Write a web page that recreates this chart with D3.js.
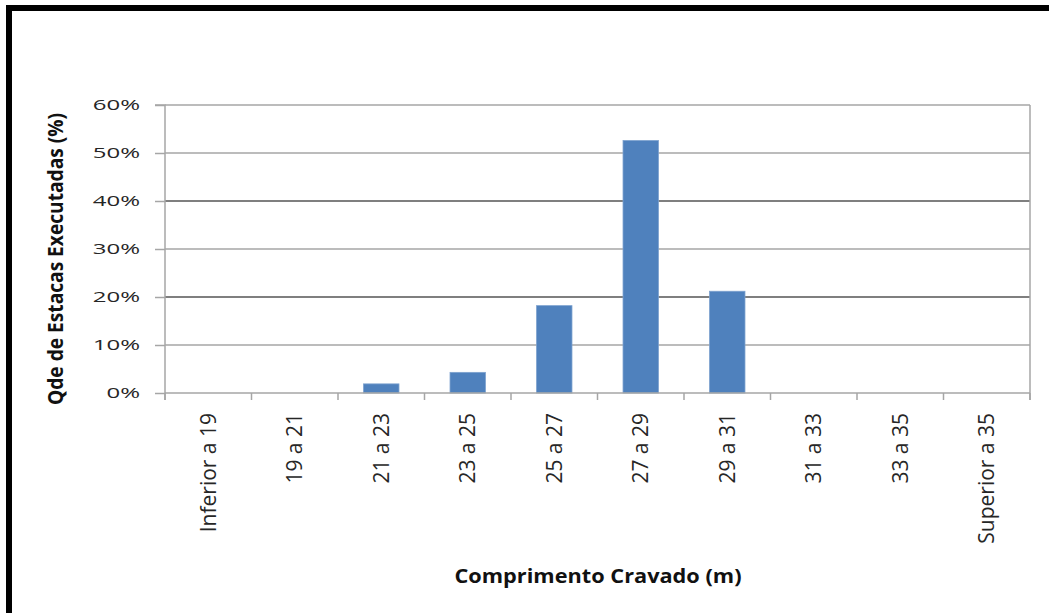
<!DOCTYPE html>
<html>
<head>
<meta charset="utf-8">
<script src="https://cdn.jsdelivr.net/npm/d3@7"></script>
<style>
  html, body { margin: 0; padding: 0; background: #fff; }
  svg { display: block; }
  text { font-family: "Open Sans", "Noto Sans", sans-serif; }
</style>
</head>
<body>
<svg id="chart" width="1049" height="613"></svg>
<script>
// ---- data ----
const categories = ["Inferior a 19", "19 a 21", "21 a 23", "23 a 25", "25 a 27",
                    "27 a 29", "29 a 31", "31 a 33", "33 a 35", "Superior a 35"];
const percentValues = [0, 0, 1.9, 4.3, 18.2, 52.6, 21.2, 0, 0, 0];
const yTickValues = [0, 10, 20, 30, 40, 50, 60];
const xAxisTitle = "Comprimento Cravado (m)";
const yAxisTitle = "Qde de Estacas Executadas (%)";

// ---- layout ----
const W = 1049, H = 613;
const plot = { left: 165, right: 1030, top: 105, bottom: 393 };

const svg = d3.select("#chart");

// outer frame (cut off at right/bottom like the reference)
svg.append("rect")
  .attr("x", 9).attr("y", 8)
  .attr("width", W + 20).attr("height", H + 20)
  .attr("fill", "#fff")
  .attr("stroke", "#000").attr("stroke-width", 6);

const x = d3.scaleBand()
  .domain(categories)
  .range([plot.left, plot.right])
  .paddingInner(0.59).paddingOuter(0.295);

const xCat = d3.scaleBand().domain(categories).range([plot.left, plot.right]);

const y = d3.scaleLinear().domain([0, 60]).range([plot.bottom, plot.top]);

// gridlines
svg.append("g").selectAll("line")
  .data(yTickValues.filter(v => v > 0))
  .join("line")
  .attr("x1", plot.left).attr("x2", plot.right)
  .attr("y1", d => y(d)).attr("y2", d => y(d))
  .attr("stroke", d => (d === 20 || d === 40) ? "#7f7f7f" : "#a6a6a6")
  .attr("stroke-width", d => (d === 20 || d === 40) ? 2 : 1.5);

// right border of plot
svg.append("line")
  .attr("x1", plot.right).attr("x2", plot.right)
  .attr("y1", plot.top).attr("y2", plot.bottom + 7)
  .attr("stroke", "#a6a6a6").attr("stroke-width", 1.5);

// bars
svg.append("g").selectAll("rect")
  .data(categories.map((c, i) => ({ c, v: percentValues[i] })).filter(d => d.v > 0))
  .join("rect")
  .attr("x", d => x(d.c))
  .attr("width", x.bandwidth())
  .attr("y", d => y(d.v))
  .attr("height", d => y(0) - y(d.v))
  .attr("fill", "#4f81bd")
  .attr("stroke", "#7da2cf").attr("stroke-width", 0.8);

// y axis
const yAxis = svg.append("g")
  .attr("transform", `translate(${plot.left},0)`)
  .call(d3.axisLeft(y).tickValues(yTickValues).tickSize(10).tickFormat(""));
yAxis.select(".domain").attr("stroke", "#a6a6a6").attr("stroke-width", 1.5)
  .attr("d", `M-10,${plot.top}H0V${plot.bottom + 7}`);
yAxis.selectAll(".tick line").attr("stroke", "#a6a6a6").attr("stroke-width", 1.5);

svg.append("g").selectAll("text")
  .data(yTickValues)
  .join("text")
  .attr("transform", d => `translate(140,${y(d)}) scale(1.6,1)`)
  .attr("text-anchor", "end")
  .attr("dy", "0.36em")
  .attr("font-size", 15)
  .attr("fill", "#262626")
  .text(d => d + "%");

// x axis
const xAxis = svg.append("g")
  .attr("transform", `translate(0,${plot.bottom})`)
  .call(d3.axisBottom(xCat).tickSize(0).tickFormat(""));
xAxis.select(".domain").attr("stroke", "#a6a6a6").attr("stroke-width", 1.5)
  .attr("d", `M${plot.left},0H${plot.right}`);
xAxis.selectAll(".tick").remove();

// category boundary ticks
svg.append("g").selectAll("line")
  .data(d3.range(categories.length + 1))
  .join("line")
  .attr("x1", i => plot.left + i * xCat.step())
  .attr("x2", i => plot.left + i * xCat.step())
  .attr("y1", plot.bottom).attr("y2", plot.bottom + 7)
  .attr("stroke", "#a6a6a6").attr("stroke-width", 1.5);

// rotated category labels
svg.append("g").selectAll("text")
  .data(categories)
  .join("text")
  .attr("transform", d => `translate(${xCat(d) + xCat.bandwidth() / 2},413) rotate(-90)`)
  .attr("text-anchor", "end")
  .attr("dy", "0.36em")
  .attr("font-size", 21)
  .attr("fill", "#262626")
  .text(d => d);

// axis titles
svg.append("text")
  .attr("x", 598).attr("y", 583)
  .attr("text-anchor", "middle")
  .attr("font-size", 20)
  .attr("font-weight", "bold")
  .attr("textLength", 287).attr("lengthAdjust", "spacingAndGlyphs")
  .attr("fill", "#111")
  .text(xAxisTitle);

svg.append("text")
  .attr("transform", "translate(63,259) rotate(-90)")
  .attr("text-anchor", "middle")
  .attr("font-size", 21)
  .attr("font-weight", "bold")
  .attr("textLength", 292).attr("lengthAdjust", "spacingAndGlyphs")
  .attr("fill", "#111")
  .text(yAxisTitle);
</script>
</body>
</html>
